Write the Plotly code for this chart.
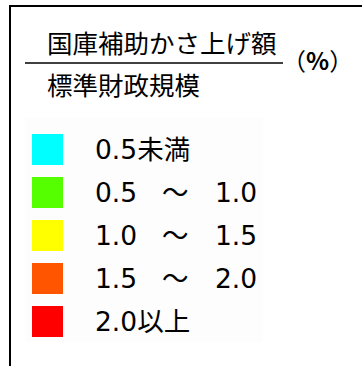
import plotly.graph_objects as go

# Legend content: class colours and their range labels
class_colors = ["#00FFFF", "#55FF00", "#FFFF00", "#FF5500", "#FF0000"]
label_low = ["0.5未満", "0.5", "1.0", "1.5", "2.0以上"]
label_mid = ["", "～", "～", "～", ""]
label_high = ["", "1.0", "1.5", "2.0", ""]

title_numerator = "国庫補助かさ上げ額"
title_denominator = "標準財政規模"
title_unit = "（<b>%</b>）"

W, H = 362, 366
row_y0, row_step = 149.5, 43
rows_y = [row_y0 + i * row_step for i in range(len(class_colors))]

font_title = "Liberation Sans, Arial, Noto Sans CJK JP"
font_label = "DejaVu Sans, Noto Sans CJK JP"

fig = go.Figure()

# colour swatches
fig.add_trace(go.Scatter(
    x=[47.5] * len(class_colors), y=rows_y, mode="markers",
    marker=dict(symbol="square", size=31, color=class_colors,
                line=dict(width=0)),
    hoverinfo="skip", showlegend=False,
))

lab_font = dict(size=26.5, color="black", family=font_label)
annotations = []
for y, lo, mid, hi in zip(rows_y, label_low, label_mid, label_high):
    annotations.append(dict(x=93, y=y, text=lo, xanchor="left", yanchor="middle",
                            showarrow=False, font=lab_font))
    if mid:
        annotations.append(dict(x=175, y=y, text=mid, xanchor="center", yanchor="middle",
                                showarrow=False, font=lab_font))
    if hi:
        annotations.append(dict(x=213, y=y, text=hi, xanchor="left", yanchor="middle",
                                showarrow=False, font=lab_font))

annotations += [
    dict(x=45, y=44, text=title_numerator, xanchor="left", yanchor="middle", showarrow=False,
         font=dict(size=25.5, color="black", family=font_title)),
    dict(x=45, y=86, text=title_denominator, xanchor="left", yanchor="middle", showarrow=False,
         font=dict(size=25.5, color="black", family=font_title)),
    dict(x=280, y=59, text=title_unit, xanchor="left", yanchor="middle", showarrow=False,
         font=dict(size=24, color="black", family="Noto Sans CJK JP")),
]

shapes = [
    # faint panel behind the legend rows
    dict(type="rect", x0=25, x1=263, y0=118, y1=342, fillcolor="#fdfdfd",
         line=dict(width=0), layer="below"),
    # frame: top and left rules
    dict(type="path", path=f"M 10 {H} L 10 6 L {W} 6",
         line=dict(color="black", width=2)),
    # fraction bar
    dict(type="line", x0=25, x1=283, y0=63, y1=63, line=dict(color="black", width=1.6)),
]

fig.update_layout(
    width=W, height=H, margin=dict(l=0, r=0, t=0, b=0),
    paper_bgcolor="white", plot_bgcolor="white",
    xaxis=dict(range=[0, W], visible=False, fixedrange=True),
    yaxis=dict(range=[H, 0], visible=False, fixedrange=True),
    annotations=annotations, shapes=shapes,
)

fig.write_html("out.html")
